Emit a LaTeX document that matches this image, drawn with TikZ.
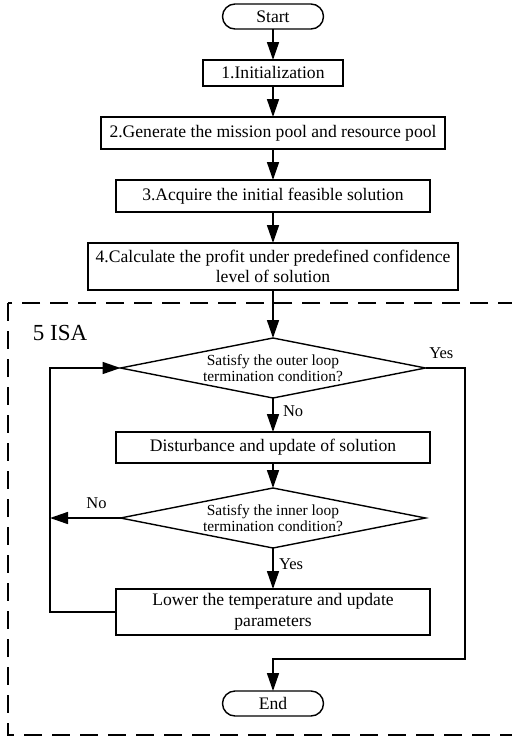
\documentclass[tikz,border=0pt]{standalone}
\usepackage{fontspec}
\setmainfont{Liberation Serif}
\usetikzlibrary{arrows.meta,positioning,shapes.geometric}

\begin{document}
\begin{tikzpicture}[
  x=1pt, y=-1pt,
  every node/.style={outer sep=0pt, inner sep=0pt},
  proc/.style={draw, line width=1.4pt, minimum height=32pt, align=center,
               font=\fontsize{17.6}{20.5}\selectfont},
  term/.style={proc, rounded corners=12.5pt, minimum width=101pt, minimum height=25pt},
  decide/.style={draw, line width=1.4pt, diamond, aspect=5.08, minimum width=305pt,
                 minimum height=60pt, align=center, font=\fontsize{15.4}{16.5}\selectfont},
  lbl/.style={font=\fontsize{16.5}{20}\selectfont},
  arr/.style={line width=1.6pt, -{Triangle[length=18pt,width=12pt]}},
  region/.style={line width=1.6pt, dash pattern=on 18pt off 10pt}
]
  \useasboundingbox (0,0) rectangle (512,740);

  % Top part
  \node[term] (start) at (273,16.5) {Start};
  \node[proc, minimum width=140pt, minimum height=26pt, below=31pt of start] (init) {1.Initialization};
  \node[proc, minimum width=344pt, below=31pt of init] (pool) {2.Generate the mission pool and resource pool};
  \node[proc, minimum width=314pt, below=31pt of pool] (feas) {3.Acquire the initial feasible solution};
  \node[proc, minimum width=370pt, minimum height=47pt, below=31pt of feas] (profit)
    {4.Calculate the profit under predefined confidence\\level of solution};

  % ISA region
  \draw[region] (8,303) rectangle (530,735);
  \node[font=\fontsize{23}{26}\selectfont] (isa) at (60,333) {5 ISA};

  \node[decide, below=48pt of profit] (outer) {Satisfy the outer loop\\termination condition?};
  \node[proc, minimum width=314pt, minimum height=31pt, below=34pt of outer] (dist) {Disturbance and update of solution};
  \node[decide, below=25pt of dist] (inner) {Satisfy the inner loop\\termination condition?};
  \node[proc, minimum width=314pt, minimum height=46pt, below=41pt of inner] (cool)
    {Lower the temperature and update\\parameters};
  \node[term, below=56pt of cool] (end) {End};

  \coordinate (lft) at (50,0);
  \coordinate (rgt) at (465,659);

  % Connectors
  \draw[arr] (start) -- (init);
  \draw[arr] (init) -- (pool);
  \draw[arr] (pool) -- (feas);
  \draw[arr] (feas) -- (profit);
  \draw[arr] (profit) -- (outer);
  \draw[arr] (outer) -- node[lbl, right=10pt, pos=0.4] (no1) {No} (dist);
  \draw[arr] (dist) -- (inner);
  \draw[arr] (inner) -- node[lbl, right=6pt, pos=0.4] (yes2) {Yes} (cool);
  \draw[arr] (inner.west) -- node[lbl, above=9pt, pos=0.34] (no2) {No} (lft |- inner.west);
  \draw[arr] (cool.west) -- (lft |- cool.west) -- (lft |- outer.west) -- (outer.west);
  \draw[arr] (outer.east) -- node[lbl, above=9pt, pos=0.4] (yes1) {Yes} (rgt |- outer.east)
    -- (rgt) -- (rgt -| end.north) -- (end.north);
\end{tikzpicture}
\end{document}
